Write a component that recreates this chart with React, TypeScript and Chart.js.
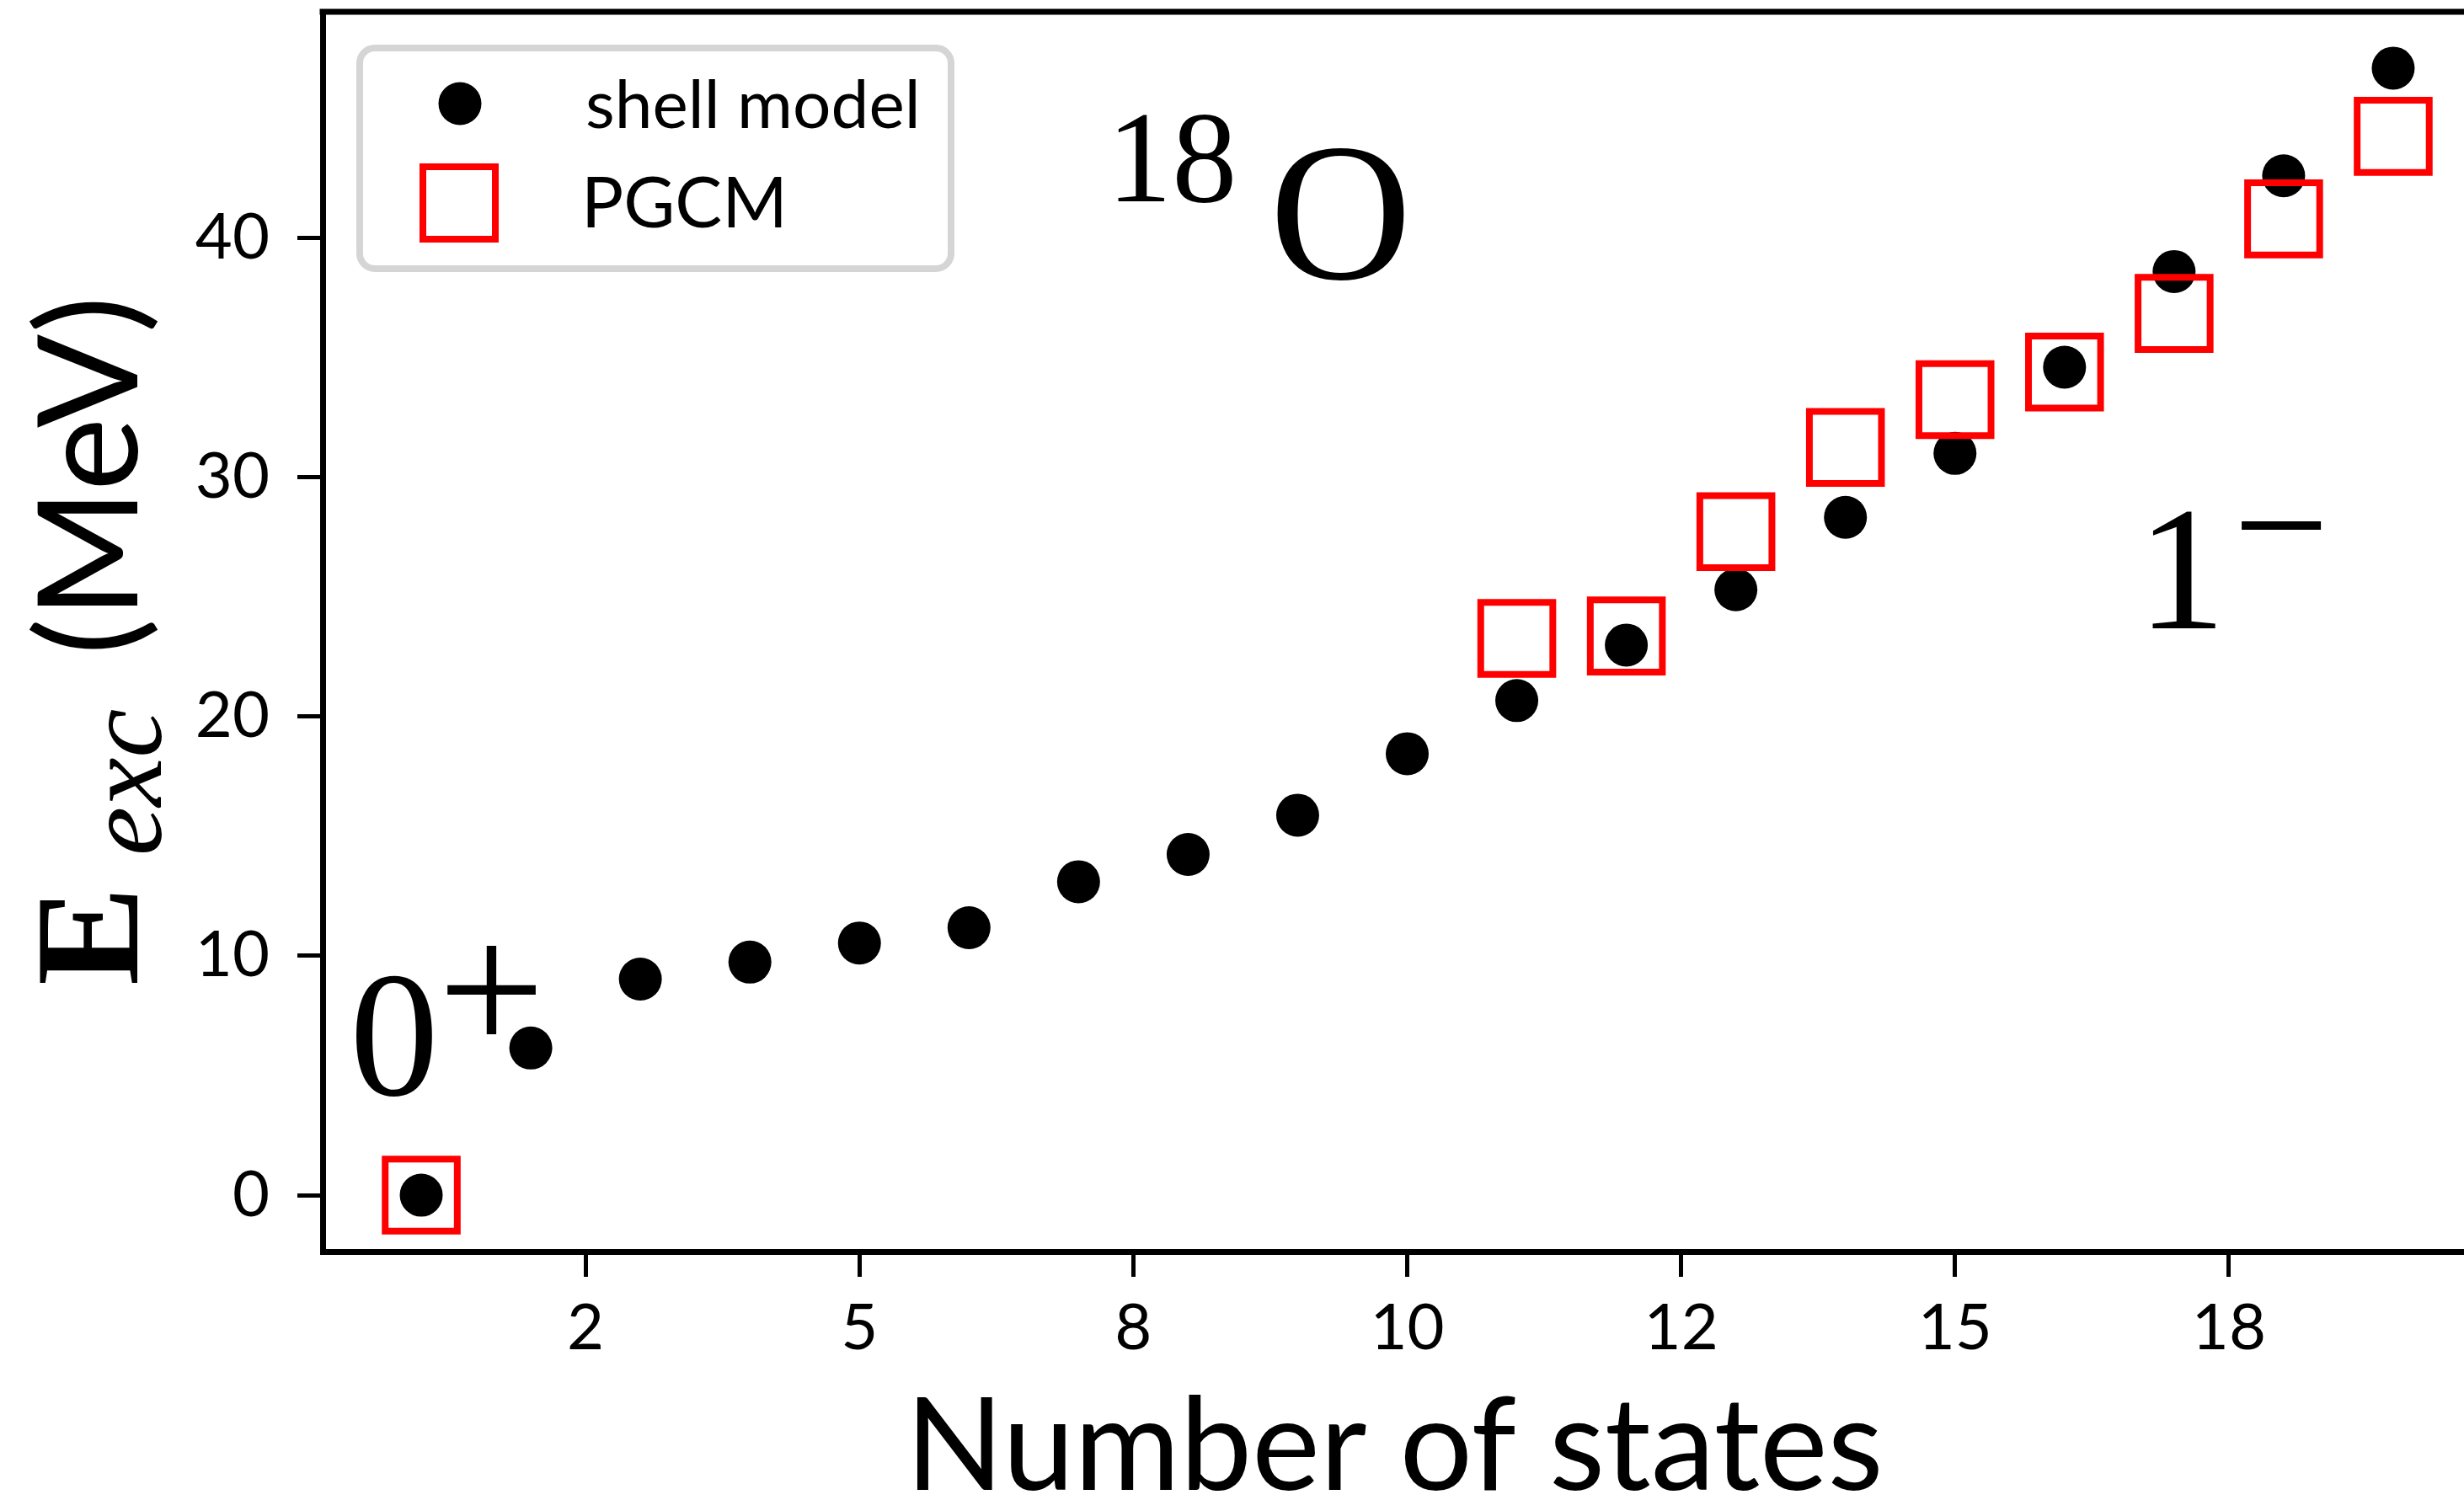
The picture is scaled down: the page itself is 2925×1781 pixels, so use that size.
import { useEffect, useRef } from "react";
import { Chart, registerables } from "chart.js";

Chart.register(...registerables);

// ---- data ----
const states = [1, 2, 3, 4, 5, 6, 7, 8, 9, 10, 11, 12, 13, 14, 15, 16, 17, 18, 19];
const shellModel = [0, 6.15, 9.03, 9.74, 10.54, 11.18, 13.1, 14.24, 15.88, 18.45, 20.67, 22.99, 25.3, 28.33, 31.0, 34.6, 38.6, 42.6, 47.1];
const pgcmStates = [1, 11, 12, 13, 14, 15, 16, 17, 18, 19];
const pgcmValues = [0, 23.27, 23.37, 27.73, 31.25, 33.25, 34.4, 36.85, 40.8, 44.25];
const xTickValues = [2.5, 5, 7.5, 10, 12.5, 15, 17.5];
const xTickLabels = ["2", "5", "8", "10", "12", "15", "18"];
const yTickValues = [0, 10, 20, 30, 40];
const xLimits = [0.1, 19.9];
const yLimits = [-2.355, 49.455];
const seriesLabels = ["shell model", "PGCM"];

const W = 2960;
const H = 1781;
const SANS = "Lato";
const SERIF = "'Liberation Serif'";

type Mode = "bottom" | "baseline" | "center";

function drawInk(
  ctx: CanvasRenderingContext2D,
  text: string,
  style: string,
  family: string,
  left: number,
  fit: "h" | "w",
  span: number,
  yRef: number,
  yMode: Mode
) {
  ctx.font = `${style} 100px ${family}`;
  let m = ctx.measureText(text);
  const h = m.actualBoundingBoxAscent + m.actualBoundingBoxDescent;
  const w = m.actualBoundingBoxLeft + m.actualBoundingBoxRight;
  const size = (100 * span) / (fit === "h" ? h : w);
  ctx.font = `${style} ${size}px ${family}`;
  m = ctx.measureText(text);
  const x = left + m.actualBoundingBoxLeft;
  let y = yRef;
  if (yMode === "bottom") y = yRef - m.actualBoundingBoxDescent;
  else if (yMode === "center") y = yRef + (m.actualBoundingBoxAscent - m.actualBoundingBoxDescent) / 2;
  ctx.textAlign = "left";
  ctx.textBaseline = "alphabetic";
  ctx.fillText(text, x, y);
}

const decorPlugin = {
  id: "decor",
  afterDraw(chart: any) {
    const ctx: CanvasRenderingContext2D = chart.ctx;
    const a = chart.chartArea;
    ctx.save();
    // top & right spines
    ctx.strokeStyle = "#000";
    ctx.lineWidth = 7;
    ctx.beginPath();
    ctx.moveTo(a.left - 3.5, a.top);
    ctx.lineTo(a.right, a.top);
    ctx.lineTo(a.right, a.bottom);
    ctx.stroke();

    // legend
    const ds = chart.data.datasets;
    ctx.fillStyle = "#fff";
    ctx.strokeStyle = "#d5d5d5";
    ctx.lineWidth = 8;
    ctx.beginPath();
    (ctx as any).roundRect(427, 57, 702, 262, 18);
    ctx.fill();
    ctx.stroke();
    // shell model marker
    ctx.fillStyle = ds[0].backgroundColor;
    ctx.beginPath();
    ctx.arc(546, 123, 25.5, 0, Math.PI * 2);
    ctx.fill();
    // PGCM marker
    ctx.strokeStyle = ds[1].borderColor;
    ctx.lineWidth = 8;
    ctx.strokeRect(545 - 43, 241 - 43, 86, 86);
    ctx.fillStyle = "#000";
    drawInk(ctx, ds[0].label, "normal", SANS, 697, "w", 390, 153, "bottom");
    drawInk(ctx, ds[1].label, "normal", SANS, 697, "w", 230, 271, "bottom");

    // annotations
    drawInk(ctx, "0", "normal", SERIF, 423, "h", 144, 1302, "bottom");
    drawInk(ctx, "+", "normal", SERIF, 531, "w", 108, 1175, "center");
    drawInk(ctx, "1", "normal", SERIF, 2555, "h", 139, 746, "bottom");
    drawInk(ctx, "\u2212", "normal", SERIF, 2661, "w", 97, 623, "center");
    drawInk(ctx, "18", "normal", SERIF, 1327, "h", 105, 241, "bottom");
    drawInk(ctx, "O", "normal", SERIF, 1516, "h", 159, 333, "bottom");

    // x title
    drawInk(ctx, "Number of states", "normal", SANS, 1088, "w", 1142, 1770, "bottom");

    // y title (rotated)
    ctx.save();
    ctx.translate(163, 1167);
    ctx.rotate(-Math.PI / 2);
    drawInk(ctx, "E", "bold", SERIF, 0, "h", 116, 0, "bottom");
    drawInk(ctx, "exc", "italic", SERIF, 155, "w", 170, 29, "bottom");
    drawInk(ctx, "(MeV)", "normal", SANS, 396, "w", 414, 0, "baseline");
    ctx.restore();

    ctx.restore();
  },
};

export default function App() {
  const ref = useRef<HTMLCanvasElement>(null);
  useEffect(() => {
    const canvas = ref.current;
    if (!canvas) return;
    const chart = new Chart(canvas, {
      type: "scatter",
      data: {
        datasets: [
          {
            label: seriesLabels[0],
            data: states.map((x, i) => ({ x, y: shellModel[i] })),
            pointStyle: "circle",
            pointRadius: 25.5,
            pointHoverRadius: 25.5,
            backgroundColor: "#000000",
            borderColor: "#000000",
            borderWidth: 0,
            showLine: false,
            order: 1,
          },
          {
            label: seriesLabels[1],
            data: pgcmStates.map((x, i) => ({ x, y: pgcmValues[i] })),
            pointStyle: "rect",
            pointRadius: 60.5,
            pointHoverRadius: 60.5,
            backgroundColor: "rgba(0,0,0,0)",
            borderColor: "#ff0000",
            borderWidth: 8,
            showLine: false,
            order: 0,
          },
        ],
      },
      options: {
        responsive: false,
        animation: false,
        devicePixelRatio: 1,
        events: [],
        layout: { autoPadding: false, padding: { left: 0, right: 2, top: 14, bottom: 0 } },
        plugins: {
          legend: { display: false },
          tooltip: { enabled: false },
        },
        scales: {
          x: {
            type: "linear",
            position: "bottom",
            min: xLimits[0],
            max: xLimits[1],
            afterBuildTicks: (s: any) => {
              s.ticks = xTickValues.map((v) => ({ value: v }));
            },
            afterFit: (s: any) => {
              s.height = 295;
              s.paddingLeft = 0;
              s.paddingRight = 0;
            },
            ticks: {
              autoSkip: false,
              maxRotation: 0,
              minRotation: 0,
              padding: 16,
              color: "#000",
              font: { family: SANS, size: 76 },
              callback: (_v: any, i: number) => xTickLabels[i],
            },
            grid: {
              drawOnChartArea: false,
              drawTicks: true,
              tickLength: 30,
              tickWidth: 5,
              tickColor: "#000",
              color: "#000",
            },
            border: { display: true, color: "#000", width: 7 },
          },
          y: {
            type: "linear",
            position: "left",
            min: yLimits[0],
            max: yLimits[1],
            afterBuildTicks: (s: any) => {
              s.ticks = yTickValues.map((v) => ({ value: v }));
            },
            afterFit: (s: any) => {
              s.width = 383;
              s.paddingTop = 0;
              s.paddingBottom = 0;
            },
            ticks: {
              padding: 33,
              color: "#000",
              font: { family: SANS, size: 76 },
              callback: (v: any) => String(v),
            },
            grid: {
              drawOnChartArea: false,
              drawTicks: true,
              tickLength: 30,
              tickWidth: 5,
              tickColor: "#000",
              color: "#000",
            },
            border: { display: true, color: "#000", width: 7 },
          },
        },
      },
      plugins: [decorPlugin],
    } as any);
    return () => chart.destroy();
  }, []);

  return (
    <div
      style={{
        position: "fixed",
        left: 0,
        top: 0,
        width: 2925,
        height: 1781,
        overflow: "hidden",
        background: "#fff",
      }}
    >
      <canvas ref={ref} width={W} height={H} style={{ display: "block", width: W, height: H }} />
    </div>
  );
}
